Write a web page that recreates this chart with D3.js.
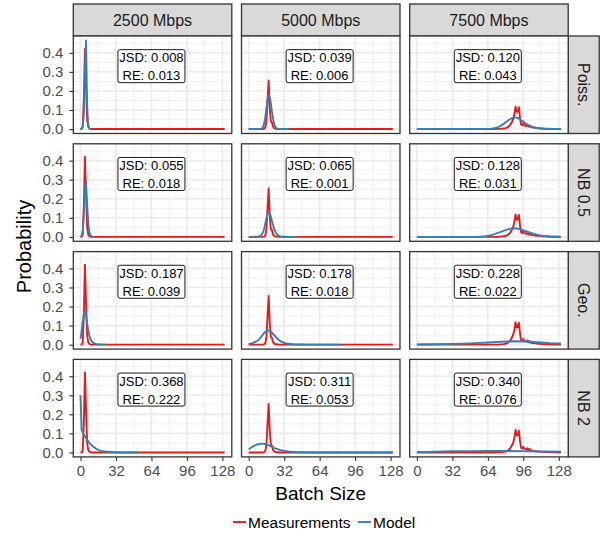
<!DOCTYPE html>
<html>
<head>
<meta charset="utf-8">
<script src="https://cdn.jsdelivr.net/npm/d3@7"></script>
<style>
body { margin: 0; background: #fff; }
svg text { font-family: "Liberation Sans", Arial, sans-serif; }
</style>
</head>
<body>
<svg width="600" height="533"></svg>
<script>
//* Facets
const rates = ["2500 Mbps", "5000 Mbps", "7500 Mbps"];
const models = ["Poiss.", "NB 0.5", "Geo.", "NB 2"];
const xTicks = [0, 32, 64, 96, 128];
const yTicks = [0, 0.1, 0.2, 0.3, 0.4];

//* Fit scores, one row per model, one column per rate
const jsd = [
	[0.008, 0.039, 0.120],
	[0.055, 0.065, 0.128],
	[0.187, 0.178, 0.228],
	[0.368, 0.311, 0.340]
];
const re = [
	[0.013, 0.006, 0.043],
	[0.018, 0.001, 0.031],
	[0.039, 0.018, 0.022],
	[0.222, 0.053, 0.076]
];

//* Measured batch size distributions [batch size, probability]
const meas2500 = [[0,0],[1,0],[2,0.01],[3,0.16],[4,0.42],[5,0.22],[6,0.05],[7,0.012],[8,0.004],[9,0.001],[10,0],[130,0]];
const meas5000 = [[0,0],[13,0],[14,0.002],[15,0.008],[16,0.04],[17,0.15],[18,0.255],[19,0.11],[20,0.04],[21,0.035],[22,0.012],[23,0.005],[24,0.002],[26,0.001],[28,0],[130,0]];
const meas7500 = [[0,0],[70,0],[74,0.001],[78,0.003],[80,0.005],[82,0.01],[84,0.02],[85,0.03],[86,0.04],[87,0.055],[88,0.08],[89,0.118],[90,0.09],[91,0.092],[92,0.115],[93,0.06],[94,0.025],[95,0.02],[96,0.03],[97,0.02],[98,0.018],[99,0.015],[100,0.022],[101,0.012],[102,0.018],[103,0.01],[104,0.009],[106,0.008],[108,0.006],[110,0.005],[114,0.003],[118,0.002],[122,0.001],[126,0.0005],[130,0]];

//* Model distributions
const poiss2500 = [[0,0],[1,0.002],[2,0.015],[3,0.08],[4,0.3],[5,0.465],[6,0.12],[7,0.018],[8,0.003],[9,0]];
const poiss5000 = [[0,0],[10,0],[11,0.001],[12,0.004],[13,0.012],[14,0.03],[15,0.065],[16,0.11],[17,0.155],[18,0.178],[19,0.168],[20,0.135],[21,0.09],[22,0.052],[23,0.026],[24,0.012],[25,0.005],[26,0.002],[28,0.0005],[36,0]];
const poiss7500 = [[0,0],[60,0],[66,0.001],[70,0.004],[74,0.012],[77,0.022],[80,0.035],[83,0.048],[86,0.058],[88,0.061],[90,0.06],[92,0.055],[95,0.043],[98,0.03],[101,0.019],[104,0.011],[107,0.006],[110,0.003],[115,0.001],[120,0.0003],[130,0]];

const nb05_2500 = [[0,0],[1,0.004],[2,0.03],[3,0.12],[4,0.25],[5,0.29],[6,0.17],[7,0.07],[8,0.025],[9,0.009],[10,0.003],[11,0.001],[12,0]];
const nb05_5000 = [[0,0],[8,0.001],[10,0.004],[12,0.014],[13,0.026],[14,0.045],[15,0.07],[16,0.097],[17,0.118],[18,0.128],[19,0.123],[20,0.106],[21,0.083],[22,0.061],[23,0.042],[24,0.027],[25,0.017],[26,0.011],[28,0.004],[30,0.0015],[34,0.0003],[43,0]];
const nb05_7500 = [[0,0],[50,0],[56,0.001],[62,0.004],[66,0.008],[70,0.014],[74,0.022],[78,0.031],[82,0.039],[86,0.044],[88,0.045],[90,0.044],[94,0.039],[98,0.031],[102,0.022],[106,0.015],[110,0.009],[114,0.005],[120,0.002],[130,0.0005]];

const geo2500 = [[0,0.03],[1,0.07],[2,0.12],[3,0.16],[4,0.175],[5,0.15],[6,0.11],[7,0.075],[8,0.048],[9,0.03],[10,0.019],[11,0.012],[12,0.008],[14,0.003],[16,0.0015],[18,0.0006],[22,0]];
const geo5000 = [[0,0.003],[4,0.009],[8,0.021],[10,0.032],[12,0.047],[14,0.062],[16,0.073],[17,0.075],[18,0.074],[20,0.068],[22,0.056],[24,0.043],[26,0.031],[28,0.021],[30,0.014],[34,0.006],[40,0.002],[50,0.0005],[83,0]];
const geo7500 = [[0,0.001],[16,0.002],[32,0.004],[48,0.007],[64,0.011],[76,0.015],[88,0.018],[96,0.017],[104,0.014],[112,0.011],[120,0.008],[130,0.006]];

const nb2_2500 = [[0,0.3],[1,0.12],[2,0.105],[3,0.095],[4,0.085],[5,0.075],[6,0.066],[7,0.058],[8,0.05],[9,0.044],[10,0.038],[12,0.028],[14,0.02],[16,0.014],[18,0.01],[20,0.007],[24,0.0035],[28,0.0017],[32,0.0008],[40,0.0002],[52,0]];
const nb2_5000 = [[0,0.017],[2,0.025],[4,0.032],[6,0.038],[8,0.042],[10,0.045],[12,0.046],[14,0.045],[16,0.042],[18,0.037],[20,0.032],[24,0.022],[28,0.014],[32,0.008],[36,0.005],[40,0.003],[48,0.001],[60,0.0002],[130,0]];
const nb2_7500 = [[0,0.002],[16,0.004],[32,0.006],[48,0.007],[64,0.008],[80,0.008],[96,0.007],[112,0.005],[130,0.004]];

const measured = [meas2500, meas5000, meas7500];
const modelled = [
	[poiss2500, poiss5000, poiss7500],
	[nb05_2500, nb05_5000, nb05_7500],
	[geo2500, geo5000, geo7500],
	[nb2_2500, nb2_5000, nb2_7500]
];

const svg = d3.select("svg");

//* Layout
const panelLeft = 73.3, panelW = 158.5, colGap = 9.7;
const panelTop = 36, panelH = 97.5, rowGap = 10.3;
const stripH = 32, stripW = 31;
const red = "#E41A1C", blue = "#377EB8";
const fmt = d3.format(".3f");

//* scales (shared by all panels, translated per panel)
const yMax = 0.465;
const x = d3.scaleLinear().domain([-6.5, 136.5]).range([0, panelW]);
const y = d3.scaleLinear().domain([-0.05 * yMax, 1.05 * yMax]).range([panelH, 0]);
const line = d3.line().x((d) => x(d[0])).y((d) => y(d[1]));

const minorX = [16, 48, 80, 112];
const minorY = [0.05, 0.15, 0.25, 0.35, 0.45];

svg.append("defs").append("clipPath").attr("id", "clip")
	.append("rect").attr("width", panelW).attr("height", panelH);

//* Top strips
rates.forEach((rate, c) => {
	const g = svg.append("g")
		.attr("transform", `translate(${panelLeft + c * (panelW + colGap)}, ${panelTop - stripH})`);
	g.append("rect").attr("width", panelW).attr("height", stripH)
		.attr("fill", "#D9D9D9").attr("stroke", "#333333").attr("stroke-width", 1.3);
	g.append("text").attr("x", panelW / 2).attr("y", stripH / 2 + 5.5)
		.attr("text-anchor", "middle").attr("font-size", 16).attr("fill", "#1A1A1A")
		.text(rate);
});

//* Panels
models.forEach((model, r) => {
	const top = panelTop + r * (panelH + rowGap);

	// right strip
	const s = svg.append("g")
		.attr("transform", `translate(${panelLeft + 3 * panelW + 2 * colGap}, ${top})`);
	s.append("rect").attr("width", stripW).attr("height", panelH)
		.attr("fill", "#D9D9D9").attr("stroke", "#333333").attr("stroke-width", 1.3);
	s.append("text")
		.attr("transform", `translate(${stripW / 2 - 5.5}, ${panelH / 2}) rotate(90)`)
		.attr("text-anchor", "middle").attr("font-size", 16).attr("fill", "#1A1A1A")
		.text(model);

	rates.forEach((rate, c) => {
		const g = svg.append("g")
			.attr("transform", `translate(${panelLeft + c * (panelW + colGap)}, ${top})`);

		g.append("rect").attr("width", panelW).attr("height", panelH).attr("fill", "#fff");

		// grid
		g.selectAll("line.minx").data(minorX).enter().append("line")
			.attr("x1", (d) => x(d)).attr("x2", (d) => x(d)).attr("y1", 0).attr("y2", panelH)
			.attr("stroke", "#EBEBEB").attr("stroke-width", 0.8);
		g.selectAll("line.miny").data(minorY).enter().append("line")
			.attr("y1", (d) => y(d)).attr("y2", (d) => y(d)).attr("x1", 0).attr("x2", panelW)
			.attr("stroke", "#EBEBEB").attr("stroke-width", 0.8);
		g.selectAll("line.majx").data(xTicks).enter().append("line")
			.attr("x1", (d) => x(d)).attr("x2", (d) => x(d)).attr("y1", 0).attr("y2", panelH)
			.attr("stroke", "#EBEBEB").attr("stroke-width", 1.6);
		g.selectAll("line.majy").data(yTicks).enter().append("line")
			.attr("y1", (d) => y(d)).attr("y2", (d) => y(d)).attr("x1", 0).attr("x2", panelW)
			.attr("stroke", "#EBEBEB").attr("stroke-width", 1.6);

		// lines
		const plot = g.append("g").attr("clip-path", "url(#clip)");
		plot.append("path").datum(measured[c]).attr("d", line)
			.attr("fill", "none").attr("stroke", red).attr("stroke-width", 1.9)
			.attr("stroke-linejoin", "round");
		plot.append("path").datum(modelled[r][c]).attr("d", line)
			.attr("fill", "none").attr("stroke", blue).attr("stroke-width", 1.9)
			.attr("stroke-linejoin", "round");

		// score label
		const lg = g.append("g").attr("transform", `translate(${x(64)}, ${y(0.33)})`);
		lg.append("rect").attr("x", -33.5).attr("y", -16.5).attr("width", 67).attr("height", 33)
			.attr("rx", 2).attr("fill", "#fff").attr("stroke", "#000").attr("stroke-width", 0.9);
		lg.append("text").attr("y", -4).attr("text-anchor", "middle").attr("font-size", 13)
			.text(`JSD: ${fmt(jsd[r][c])}`);
		lg.append("text").attr("y", 14).attr("text-anchor", "middle").attr("font-size", 13)
			.text(`RE: ${fmt(re[r][c])}`);

		g.append("rect").attr("width", panelW).attr("height", panelH)
			.attr("fill", "none").attr("stroke", "#333333").attr("stroke-width", 1.3);

		// y axis on first column
		if (c === 0) {
			const ya = g.append("g").call(d3.axisLeft(y).tickValues(yTicks).tickFormat(d3.format(".1f")).tickSize(4).tickPadding(6));
			ya.select(".domain").remove();
			ya.selectAll("line").attr("stroke", "#333333").attr("stroke-width", 1.1);
			ya.selectAll("text").attr("font-size", 15).attr("fill", "#4D4D4D")
				.attr("font-family", "Liberation Sans, Arial, sans-serif");
		}
		// x axis on last row
		if (r === models.length - 1) {
			const xa = g.append("g").attr("transform", `translate(0, ${panelH})`)
				.call(d3.axisBottom(x).tickValues(xTicks).tickSize(4).tickPadding(4));
			xa.select(".domain").remove();
			xa.selectAll("line").attr("stroke", "#333333").attr("stroke-width", 1.1);
			xa.selectAll("text").attr("font-size", 15).attr("fill", "#4D4D4D")
				.attr("font-family", "Liberation Sans, Arial, sans-serif");
		}
	});
});

//* Axis titles
const bottom = panelTop + 4 * panelH + 3 * rowGap;
svg.append("text").attr("x", panelLeft + (3 * panelW + 2 * colGap) / 2).attr("y", 500)
	.attr("text-anchor", "middle").attr("font-size", 19).text("Batch Size");
svg.append("text")
	.attr("transform", `translate(31, ${(panelTop + bottom) / 2}) rotate(-90)`)
	.attr("text-anchor", "middle").attr("font-size", 20).text("Probability");

//* Legend
const legend = [["Measurements", red], ["Model", blue]];
const legendX = [233, 358];
legend.forEach(([name, color], i) => {
	const lg = svg.append("g").attr("transform", `translate(${legendX[i]}, 522)`);
	lg.append("line").attr("x1", 0).attr("x2", 13).attr("stroke", color).attr("stroke-width", 1.9);
	lg.append("text").attr("x", 15).attr("y", 5.5).attr("font-size", 15.5).text(name);
});
</script>
</body>
</html>
